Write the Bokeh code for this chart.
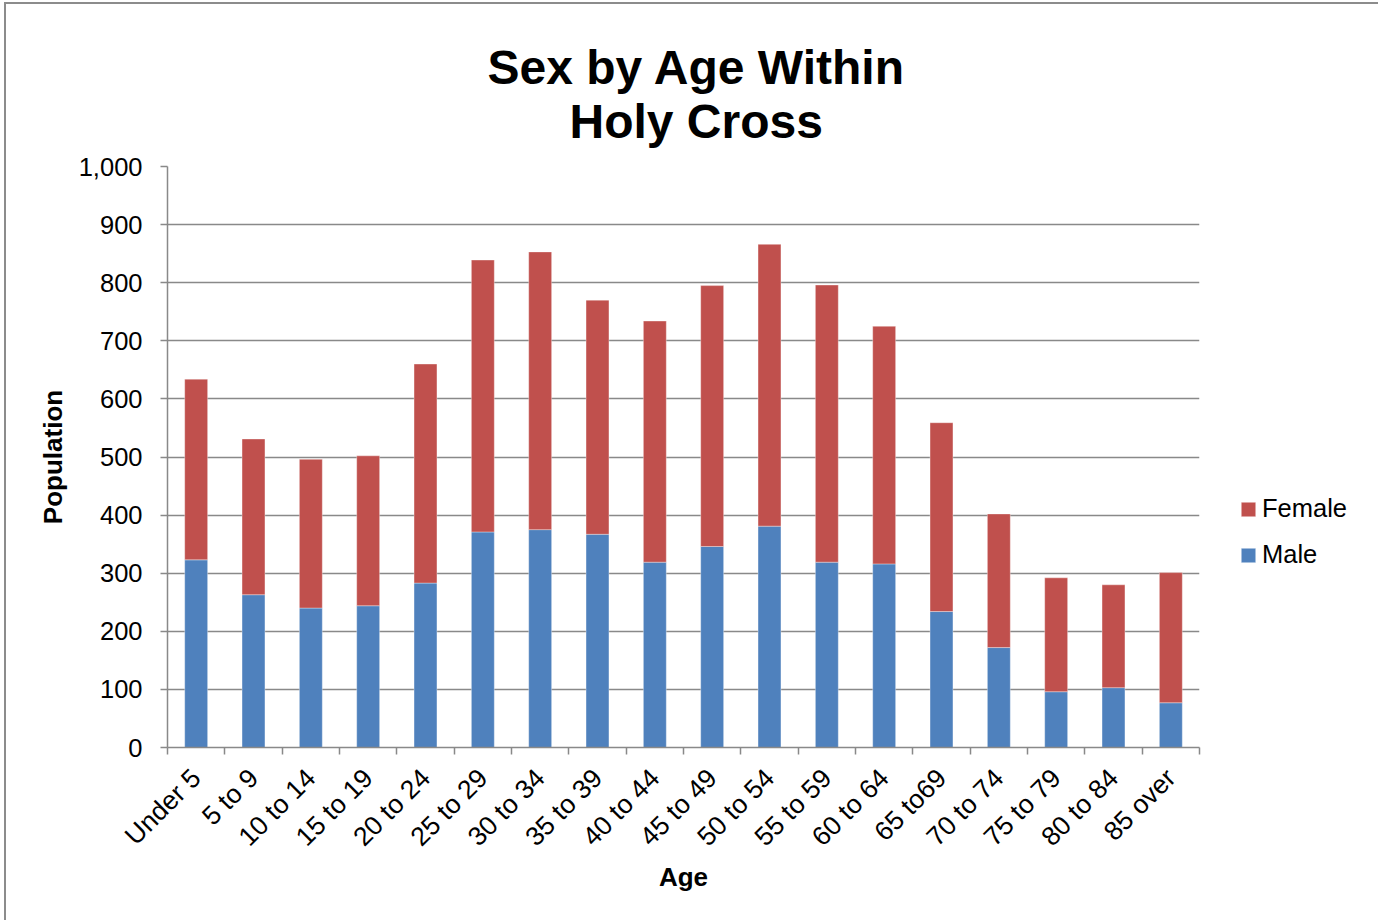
from math import pi
import numpy as np
from bokeh.plotting import figure
from bokeh.models import (ColumnDataSource, Range1d, FixedTicker, NumeralTickFormatter,
                          Legend, LegendItem, Title)
from bokeh.embed import file_html
from bokeh.resources import INLINE

# ---- data ----
categories = ["Under 5", "5 to 9", "10 to 14", "15 to 19", "20 to 24", "25 to 29",
              "30 to 34", "35 to 39", "40 to 44", "45 to 49", "50 to 54", "55 to 59",
              "60 to 64", "65 to69", "70 to 74", "75 to 79", "80 to 84", "85 over"]
male = [323, 263, 240, 244, 283, 371, 375, 367, 319, 346, 381, 319, 316, 234, 172, 96, 103, 77]
total = [634, 531, 496, 502, 660, 839, 853, 770, 734, 795, 866, 796, 725, 559, 402, 292, 280, 301]
female = [t - m for t, m in zip(total, male)]
y_ticks = list(range(0, 1001, 100))

MALE_C = "#4F81BD"
FEMALE_C = "#C0504D"
GRID_C = "#898989"
FONT = "Liberation Sans"

x = np.arange(len(categories)) + 0.5
src = ColumnDataSource(dict(x=x, male=male, female=female))

# host offset (border 2px + margins)
OX, OY = 6, 4
FL, FR, FT, FB = 167 - OX, 1199 - OX, 166 - OY, 747 - OY
p = figure(frame_width=FR - FL, frame_height=FB - FT,
           output_backend="svg", toolbar_location=None,
           x_range=Range1d(0, len(categories)), y_range=Range1d(0, 1000),
           min_border_left=FL, min_border_right=175,
           min_border_top=FT, min_border_bottom=176,
           title=None)
p.styles = {"border": "2px solid #8c8c8c", "margin-left": "4px", "margin-top": "2px"}
p.outline_line_color = None
p.background_fill_color = "white"
p.border_fill_color = "white"

renderers = p.vbar_stack(["male", "female"], x="x", width=0.4, source=src,
                         color=[MALE_C, FEMALE_C], line_color="white", line_alpha=0.35,
                         line_width=1)

# titles
t2 = Title(text="Holy Cross", align="left", text_font=FONT, text_font_size="48px",
           text_font_style="bold", text_color="black", offset=569 - 167, standoff=37)
t1 = Title(text="Sex by Age Within", align="left", text_font=FONT, text_font_size="48px",
           text_font_style="bold", text_color="black", offset=487 - 167, standoff=-38)
p.add_layout(t2, "above")
p.add_layout(t1, "above")

# x axis
xa = p.xaxis[0]
xa.ticker = FixedTicker(ticks=list(x), minor_ticks=list(range(len(categories) + 1)))
xa.major_label_overrides = {float(c): lab for c, lab in zip(x, categories)}
xa.major_label_orientation = pi / 4
xa.major_tick_out = 0
xa.major_tick_in = 0
xa.minor_tick_out = 7
xa.minor_tick_in = 0
xa.minor_tick_line_color = GRID_C
xa.minor_tick_line_width = 1.5
xa.axis_line_color = GRID_C
xa.axis_line_width = 1.5
xa.major_label_text_font = FONT
xa.major_label_text_font_size = "26.5px"
xa.major_label_text_color = "black"
xa.major_label_standoff = 19
xa.axis_label = "Age"
xa.axis_label_text_font = FONT
xa.axis_label_text_font_size = "26px"
xa.axis_label_text_font_style = "bold"
xa.axis_label_text_color = "black"
xa.axis_label_standoff = -3

# y axis
ya = p.yaxis[0]
ya.ticker = FixedTicker(ticks=y_ticks)
ya.formatter = NumeralTickFormatter(format="0,0")
ya.major_tick_out = 7
ya.major_tick_in = 0
ya.minor_tick_out = 0
ya.minor_tick_in = 0
ya.major_tick_line_color = GRID_C
ya.major_tick_line_width = 1.5
ya.axis_line_color = GRID_C
ya.axis_line_width = 1.5
ya.major_label_text_font = FONT
ya.major_label_text_font_size = "25.5px"
ya.major_label_text_color = "black"
ya.major_label_standoff = 18
ya.axis_label = "Population"
ya.axis_label_text_font = FONT
ya.axis_label_text_font_size = "26px"
ya.axis_label_text_font_style = "bold"
ya.axis_label_text_color = "black"
ya.axis_label_standoff = 8

p.xgrid.grid_line_color = None
p.ygrid.ticker = FixedTicker(ticks=y_ticks)
p.ygrid.grid_line_color = GRID_C
p.ygrid.grid_line_width = 1.5

legend = Legend(items=[LegendItem(label="Female", renderers=[renderers[1]]),
                       LegendItem(label="Male", renderers=[renderers[0]])],
                location=(40, 178), orientation="vertical",
                padding=0, margin=0, spacing=17,
                glyph_width=18, glyph_height=18, label_height=26,
                label_standoff=5,
                label_text_font=FONT, label_text_font_size="25.5px",
                label_text_color="black",
                border_line_alpha=0, background_fill_alpha=0)
p.add_layout(legend, "right")

open("out.html", "w").write(file_html(p, INLINE))
